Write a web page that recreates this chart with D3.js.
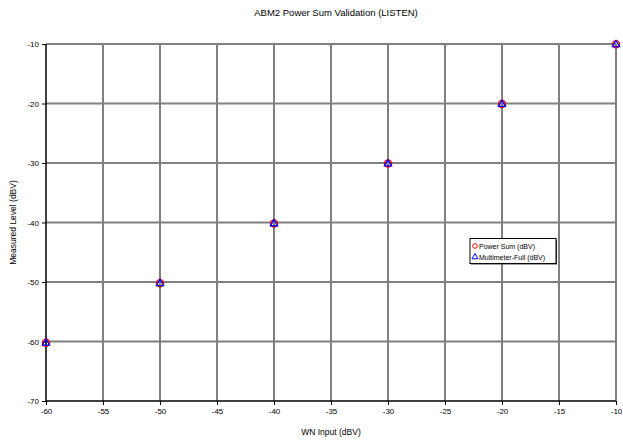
<!DOCTYPE html>
<html>
<head>
<meta charset="utf-8">
<script src="https://cdn.jsdelivr.net/npm/d3@7"></script>
<style>
  body { margin: 0; background: #fff; }
  text { font-family: "Liberation Sans", Arial, sans-serif; }
</style>
</head>
<body>
<script>
// chart values
var wnInput = [-60, -50, -40, -30, -20, -10];
var powerSum = [-60.2, -50.2, -40.15, -30.1, -20.1, -10.05];
var multimeterFull = [-60.2, -50.2, -40.15, -30.1, -20.1, -10.05];
var xTicks = [-60, -55, -50, -45, -40, -35, -30, -25, -20, -15, -10];
var yTicks = [-70, -60, -50, -40, -30, -20, -10];
var seriesNames = ["Power Sum (dBV)", "Multimeter-Full (dBV)"];

var w = 623;
var h = 440;
var pLeft = 46, pRight = 616, pTop = 44, pBottom = 401;

var svg = d3.select("body")
    .append("svg")
    .attr("width", w)
    .attr("height", h);

var xScale = d3.scaleLinear().domain([-60, -10]).range([pLeft, pRight]);
var yScale = d3.scaleLinear().domain([-70, -10]).range([pBottom, pTop]);

// gridlines
svg.append("g")
    .selectAll("line")
    .data(xTicks.slice(1))
    .enter()
    .append("line")
    .attr("x1", function(d){ return xScale(d); })
    .attr("x2", function(d){ return xScale(d); })
    .attr("y1", pTop)
    .attr("y2", pBottom)
    .attr("stroke", "#808080")
    .attr("stroke-width", 2);

svg.append("g")
    .selectAll("line")
    .data(yTicks.slice(1))
    .enter()
    .append("line")
    .attr("x1", pLeft)
    .attr("x2", pRight)
    .attr("y1", function(d){ return yScale(d); })
    .attr("y2", function(d){ return yScale(d); })
    .attr("stroke", "#808080")
    .attr("stroke-width", 2);

// axes (plain hyphen minus like the original)
var fmt = function(d){ return String(d); };
var xAxis = d3.axisBottom(xScale).tickValues(xTicks).tickFormat(fmt).tickSize(4).tickPadding(3);
var yAxis = d3.axisLeft(yScale).tickValues(yTicks).tickFormat(fmt).tickSize(4).tickPadding(3);

var gx = svg.append("g")
    .attr("transform", "translate(0," + pBottom + ")")
    .call(xAxis);
var gy = svg.append("g")
    .attr("transform", "translate(" + pLeft + ",0)")
    .call(yAxis);

[gx, gy].forEach(function(g){
    g.select(".domain").attr("stroke", "#000").attr("stroke-width", 1.5);
    g.selectAll(".tick line").attr("stroke", "#000");
    g.selectAll(".tick text")
        .attr("fill", "#000")
        .style("font-size", "8px")
        .style("font-family", "Liberation Sans, Arial, sans-serif");
});
gy.select(".domain").attr("d", "M0," + pBottom + "V" + pTop);
gx.select(".domain").attr("d", "M" + pLeft + ",0H" + pRight);

// titles
svg.append("text")
    .attr("x", 336)
    .attr("y", 16)
    .attr("text-anchor", "middle")
    .style("font-size", "9.5px")
    .text("ABM2 Power Sum Validation (LISTEN)");

svg.append("text")
    .attr("x", 331)
    .attr("y", 435)
    .attr("text-anchor", "middle")
    .style("font-size", "8.5px")
    .text("WN Input (dBV)");

svg.append("text")
    .attr("transform", "translate(16," + ((pTop + pBottom) / 2) + ") rotate(-90)")
    .attr("text-anchor", "middle")
    .style("font-size", "8.5px")
    .text("Measured Level (dBV)");

// markers
var tri = d3.symbol().type(d3.symbolTriangle).size(22);

svg.append("g")
    .selectAll("circle")
    .data(powerSum)
    .enter()
    .append("circle")
    .attr("cx", function(d, i){ return xScale(wnInput[i]); })
    .attr("cy", function(d){ return yScale(d); })
    .attr("r", 3.6)
    .attr("fill", "none")
    .attr("stroke", "#ff0000")
    .attr("stroke-width", 1.3);

svg.append("g")
    .selectAll("path")
    .data(multimeterFull)
    .enter()
    .append("path")
    .attr("transform", function(d, i){
        return "translate(" + xScale(wnInput[i]) + "," + (yScale(d) + 0.3) + ")";
    })
    .attr("d", tri)
    .attr("fill", "none")
    .attr("stroke", "#0000ff")
    .attr("stroke-width", 1.3);

// legend
var legend = svg.append("g").attr("transform", "translate(470,238.5)");
legend.append("rect")
    .attr("x", 1).attr("y", 1)
    .attr("width", 86).attr("height", 25)
    .attr("fill", "#404040");
legend.append("rect")
    .attr("width", 86).attr("height", 25)
    .attr("fill", "#fff")
    .attr("stroke", "#000")
    .attr("stroke-width", 1);

legend.append("circle")
    .attr("cx", 5).attr("cy", 7.5).attr("r", 2.3)
    .attr("fill", "none").attr("stroke", "#ff0000").attr("stroke-width", 1);
legend.append("path")
    .attr("transform", "translate(5,18.5)")
    .attr("d", d3.symbol().type(d3.symbolTriangle).size(16))
    .attr("fill", "none").attr("stroke", "#0000ff").attr("stroke-width", 1);

legend.selectAll(".lbl")
    .data(seriesNames)
    .enter()
    .append("text")
    .attr("x", 9)
    .attr("y", function(d, i){ return 10 + i * 11; })
    .style("font-size", "7px")
    .text(function(d){ return d; });
</script>
</body>
</html>
